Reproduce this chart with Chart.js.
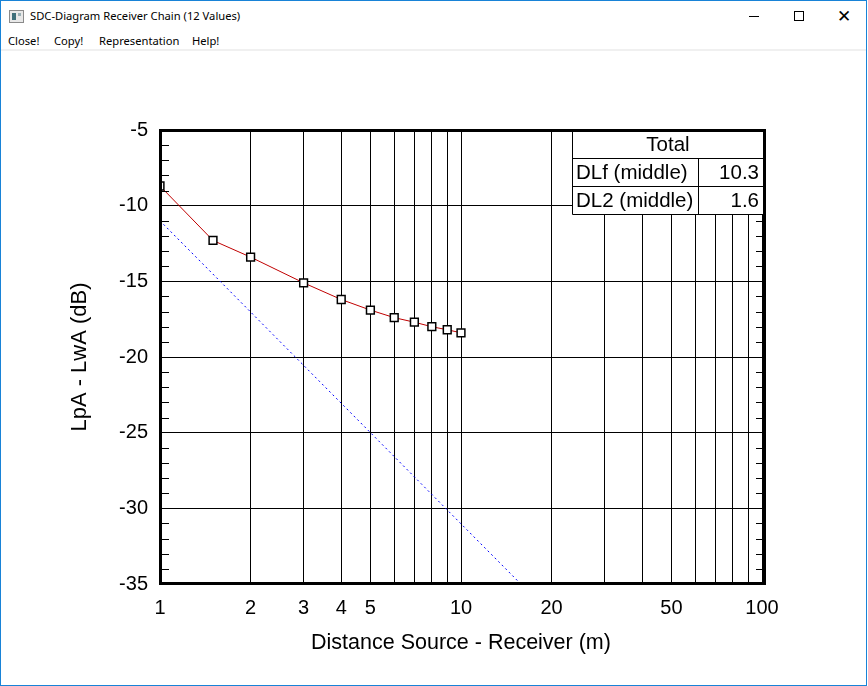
<!DOCTYPE html>
<html>
<head>
<meta charset="utf-8">
<title>SDC-Diagram Receiver Chain (12 Values)</title>
<script src="https://cdn.jsdelivr.net/npm/chart.js@4.4.1/dist/chart.umd.min.js"></script>
<style>
    html, body { margin: 0; padding: 0; background: #fff; }
    #win {
        position: relative;
        width: 865px;
        height: 684px;
        border: 1px solid #1883d7;
        overflow: hidden;
        font-family: 'Noto Sans', sans-serif;
        color: #000;
    }
    #titlebar { position: absolute; left: 0; top: 0; width: 100%; height: 30px; }
    #icon {
        position: absolute; left: 8px; top: 9px; width: 13px; height: 11px;
        border: 1px solid #8a8a8a; background: #e8e8e8;
    }
    #icon::before {
        content: ''; position: absolute; left: 2px; top: 2px; width: 4px; height: 7px; background: #3e6f7a;
    }
    #icon::after {
        content: ''; position: absolute; left: 8px; top: 2px; width: 3px; height: 3px; background: #9ab0b5;
    }
    #title { position: absolute; left: 29px; top: 7px; font-size: 11.2px; white-space: nowrap; }
    .btn { position: absolute; top: 0; width: 46px; height: 30px; }
    #bmin::after { content: ''; position: absolute; left: 18px; top: 15px; width: 10px; height: 1px; background: #000; }
    #bmax::after { content: ''; position: absolute; left: 18px; top: 10px; width: 8px; height: 8px; border: 1px solid #000; }
    #bclose { font-size: 17px; line-height: 30px; text-align: center; font-weight: 300; }
    #menu span { position: absolute; top: 32px; font-size: 11.2px; white-space: nowrap; }
    #sep { position: absolute; left: 0; top: 48px; width: 100%; height: 2px; background: #f0f0f0; }
    #plot { position: absolute; left: 0; top: 50px; width: 865px; height: 633px; }
</style>
</head>
<body>
<div id="win">
    <div id="titlebar">
        <div id="icon"></div>
        <div id="title">SDC-Diagram Receiver Chain (12 Values)</div>
        <div class="btn" id="bmin" style="left: 730px;"></div>
        <div class="btn" id="bmax" style="left: 775px;"></div>
        <div class="btn" id="bclose" style="left: 820px;">&#x2715;</div>
    </div>
    <div id="menu">
        <span style="left: 7px;">Close!</span>
        <span style="left: 53px;">Copy!</span>
        <span style="left: 98px;">Representation</span>
        <span style="left: 191px;">Help!</span>
    </div>
    <div id="sep"></div>
    <div id="plot"><canvas id="sdcChart"></canvas></div>
</div>

<script>
// measured receiver chain (distance in m, level LpA - LwA in dB)
const distances = [1, 1.5, 2, 3, 4, 5, 6, 7, 8, 9, 10];
const levels = [-8.7, -12.3, -13.4, -15.1, -16.2, -16.9, -17.4, -17.7, -18.0, -18.2, -18.4];

// free field reference line (dashed)
const refDistances = [1, 15.8];
const refLevels = [-11.0, -35.0];

// axis ticks
const xGridValues = [1, 2, 3, 4, 5, 6, 7, 8, 9, 10, 20, 30, 40, 50, 60, 70, 80, 90, 100];
const xLabelValues = [1, 2, 3, 4, 5, 10, 20, 50, 100];
const yMin = -35;
const yMax = -5;
const yStep = 5;

// summary table
const tableHeader = 'Total';
const tableLabels = ['DLf (middle)', 'DL2 (middle)'];
const tableValues = ['10.3', '1.6'];

const FONT = "'Liberation Sans', Arial, sans-serif";

document.addEventListener('DOMContentLoaded', function () {
    const ctx = document.getElementById('sdcChart').getContext('2d');

    // minor ticks, summary table and the heavy frame
    const framePlugin = {
        id: 'framePlugin',
        afterDatasetsDraw: chart => {
            const c = chart.ctx;
            const area = chart.chartArea;
            const yScale = chart.scales.y;
            c.save();

            // minor ticks every 1 dB, inside on both sides
            c.strokeStyle = '#000';
            c.lineWidth = 1;
            c.beginPath();
            for (let v = yMin + 1; v < yMax; v++) {
                if (v % yStep === 0) continue;
                const py = Math.round(yScale.getPixelForValue(v)) + 0.5;
                c.moveTo(area.left, py);
                c.lineTo(area.left + 9, py);
                c.moveTo(area.right - 6, py);
                c.lineTo(area.right + 1, py);
            }
            c.stroke();

            // table in the upper right corner
            const right = area.right + 2;
            const colW = [126, 66];
            const rowH = 28;
            const tw = colW[0] + colW[1];
            const tx = right - tw;
            const ty = area.top;
            const th = rowH * (tableLabels.length + 1);
            c.fillStyle = '#fff';
            c.fillRect(tx, ty, tw, th);
            c.beginPath();
            c.rect(tx + 0.5, ty + 0.5, tw, th);
            for (let i = 1; i <= tableLabels.length; i++) {
                c.moveTo(tx, ty + rowH * i + 0.5);
                c.lineTo(tx + tw, ty + rowH * i + 0.5);
            }
            c.moveTo(tx + colW[0] + 0.5, ty + rowH);
            c.lineTo(tx + colW[0] + 0.5, ty + th);
            c.stroke();

            c.fillStyle = '#000';
            c.font = '20.5px ' + FONT;
            c.textBaseline = 'middle';
            c.textAlign = 'center';
            c.fillText(tableHeader, tx + tw / 2, ty + rowH / 2 + 1);
            tableLabels.forEach((label, i) => {
                const cy = ty + rowH * (i + 1) + rowH / 2 + 1;
                c.textAlign = 'left';
                c.fillText(label, tx + 4, cy);
                c.textAlign = 'right';
                c.fillText(tableValues[i], tx + tw - 5, cy);
            });

            // heavy frame, 3px
            const fl = area.left - 1, ft = area.top - 1;
            const fr = area.right + 4, fb = area.bottom + 1;
            c.fillStyle = '#000';
            c.fillRect(fl, ft, fr - fl, 3);
            c.fillRect(fl, fb - 3, fr - fl, 3);
            c.fillRect(fl, ft, 3, fb - ft);
            c.fillRect(fr - 3, ft, 3, fb - ft);
            c.restore();
        }
    };

    new Chart(ctx, {
        type: 'line',
        data: {
            datasets: [{
                label: 'Reference',
                data: refDistances.map((d, i) => ({ x: d, y: refLevels[i] })),
                borderColor: '#0000ff',
                borderWidth: 1,
                borderDash: [2, 3],
                pointRadius: 0,
                fill: false,
                clip: 0
            }, {
                label: 'Receiver chain',
                data: distances.map((d, i) => ({ x: d, y: levels[i] })),
                borderColor: '#c00000',
                borderWidth: 1,
                tension: 0,
                pointStyle: 'rect',
                pointRadius: 5.5,
                pointBackgroundColor: '#fff',
                pointBorderColor: '#000',
                pointBorderWidth: 1.5,
                fill: false,
                clip: 0
            }]
        },
        options: {
            responsive: true,
            maintainAspectRatio: false,
            animation: false,
            events: [],
            layout: {
                padding: { left: 0, top: 79, right: 104, bottom: 0 }
            },
            plugins: {
                legend: { display: false },
                tooltip: { enabled: false }
            },
            scales: {
                x: {
                    type: 'logarithmic',
                    min: 1,
                    max: 100,
                    afterBuildTicks: scale => {
                        scale.ticks = xGridValues.map(v => ({ value: v }));
                    },
                    afterFit: scale => { scale.height = 100; },
                    grid: { color: '#000', lineWidth: 1, drawTicks: false },
                    border: { display: false },
                    ticks: {
                        autoSkip: false,
                        maxRotation: 0,
                        padding: 12,
                        color: '#000',
                        font: { family: FONT, size: 20 },
                        callback: value => xLabelValues.includes(value) ? String(value) : ''
                    },
                    title: {
                        display: true,
                        text: 'Distance Source - Receiver (m)',
                        color: '#000',
                        font: { family: FONT, size: 21.5 },
                        padding: { top: 0, bottom: 28 }
                    }
                },
                y: {
                    min: yMin,
                    max: yMax,
                    afterFit: scale => { scale.width = 159; },
                    grid: { color: '#000', lineWidth: 1, drawTicks: false },
                    border: { display: false },
                    ticks: {
                        stepSize: yStep,
                        padding: 12,
                        color: '#000',
                        font: { family: FONT, size: 20 }
                    },
                    title: {
                        display: true,
                        text: 'LpA - LwA (dB)',
                        color: '#000',
                        font: { family: FONT, size: 22 },
                        padding: { top: 66, bottom: 0 }
                    }
                }
            }
        },
        plugins: [framePlugin]
    });
});
</script>
</body>
</html>
